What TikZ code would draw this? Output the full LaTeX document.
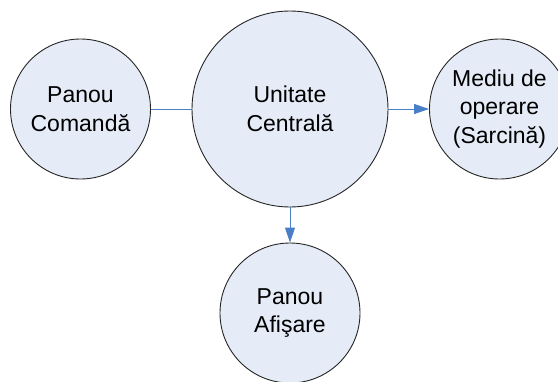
\documentclass[tikz,border=0pt]{standalone}
\usepackage{fontspec}
\setmainfont{Liberation Sans}
\usetikzlibrary{arrows.meta}
\definecolor{bubblefill}{HTML}{E6ECF7}
\definecolor{linkblue}{HTML}{4A7EC6}
\begin{document}
\begin{tikzpicture}[x=1pt,y=-1pt,
  bubble/.style={circle, draw=black!85, line width=0.9pt, fill=bubblefill,
    inner sep=0pt, align=center, font=\fontsize{23}{28.5}\selectfont},
  link/.style={draw=linkblue, line width=1pt},
  flow/.style={link, -{Triangle[length=15pt,width=10pt]}}]
  \useasboundingbox (0,0) rectangle (558,381);
  \clip (0,0) rectangle (558,381);
  \node[bubble, minimum size=140pt] (cmd) at (80.5,109) {Panou\\Comandă};
  \node[bubble, minimum size=196pt] (cpu) at (290,109) {Unitate\\Centrală};
  \node[bubble, minimum size=140pt] (env) at (499.5,109) {Mediu de\\operare\\(Sarcină)};
  \node[bubble, minimum size=140pt] (disp) at (290,313) {Panou\\Afişare};
  \draw[link] (cmd) -- (cpu);
  \draw[flow] (cpu) -- (env);
  \draw[flow] (cpu) -- (disp);
\end{tikzpicture}
\end{document}
